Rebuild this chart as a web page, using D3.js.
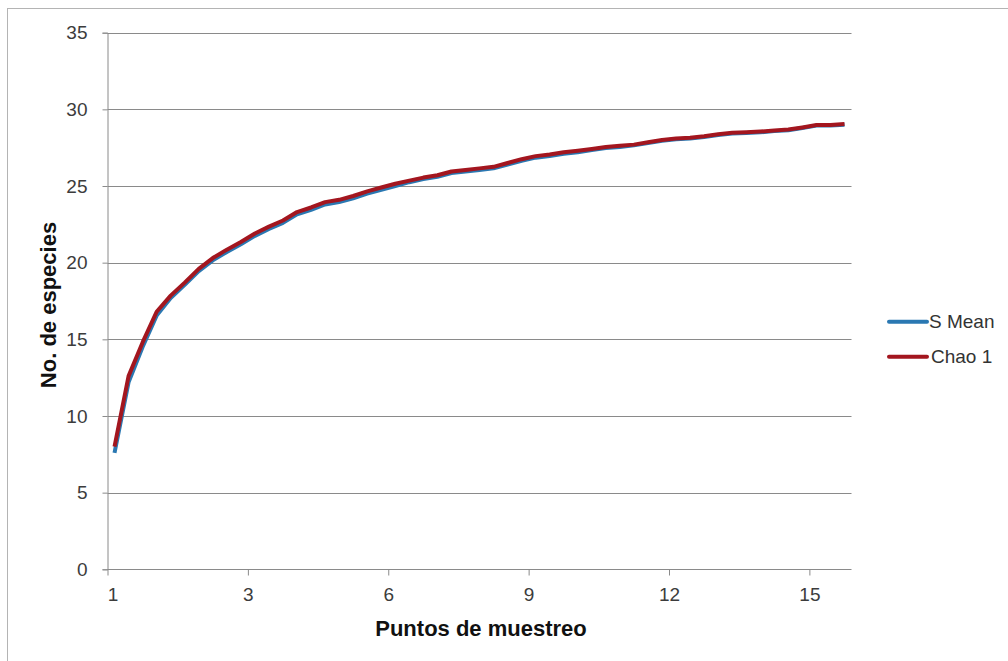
<!DOCTYPE html>
<html>
<head>
<meta charset="utf-8">
<script src="https://cdn.jsdelivr.net/npm/d3@7"></script>
<style>
  html, body { margin: 0; padding: 0; background: #fff; }
  svg { display: block; font-family: "Liberation Sans", Arial, sans-serif; }
</style>
</head>
<body>
<svg id="chart" width="1008" height="661"></svg>
<script>
// Rarefaction curves: species accumulated per sampling point
const samples = d3.range(1, 54); // 53 accumulation steps

const sMean = [7.6, 12.2, 14.5, 16.55, 17.7, 18.55, 19.45, 20.15, 20.7, 21.2,
  21.75, 22.2, 22.6, 23.15, 23.45, 23.8, 23.95, 24.2, 24.5, 24.75,
  25.0, 25.25, 25.45, 25.6, 25.85, 25.95, 26.05, 26.15, 26.4, 26.65,
  26.85, 26.95, 27.1, 27.2, 27.35, 27.48, 27.55, 27.65, 27.8, 27.95,
  28.05, 28.1, 28.2, 28.33, 28.42, 28.46, 28.5, 28.58, 28.64, 28.78,
  28.94, 28.95, 29.0];

const chao1 = [8.0, 12.6, 14.8, 16.8, 17.85, 18.7, 19.6, 20.3, 20.85, 21.35,
  21.9, 22.35, 22.75, 23.3, 23.6, 23.95, 24.1, 24.35, 24.65, 24.9,
  25.15, 25.35, 25.55, 25.7, 25.95, 26.05, 26.15, 26.25, 26.5, 26.75,
  26.95, 27.05, 27.2, 27.3, 27.42, 27.55, 27.62, 27.7, 27.85, 28.0,
  28.1, 28.15, 28.25, 28.38, 28.47, 28.5, 28.55, 28.62, 28.68, 28.82,
  28.98, 28.98, 29.05];

// Category axis labels, one every ten steps
const xTickAt = [0, 10, 20, 30, 40, 50];
const xTickLabels = ["1", "3", "6", "9", "12", "15"];
const yTicks = [0, 5, 10, 15, 20, 25, 30, 35];

const seriesNames = ["S Mean", "Chao 1"];
const seriesColors = ["#2a78b2", "#a3161f"];

const svg = d3.select("#chart");
const plotLeft = 107.5, plotRight = 851.5, plotTop = 32.7, plotBottom = 569.3;

// chart area frame
svg.append("rect")
  .attr("x", 7.5).attr("y", 8.5)
  .attr("width", 1012).attr("height", 664)
  .attr("fill", "none").attr("stroke", "#b4b4b4").attr("stroke-width", 1);

const x = d3.scaleLinear().domain([0, samples.length]).range([plotLeft, plotRight]);
const y = d3.scaleLinear().domain([0, 35]).range([plotBottom, plotTop]);

// horizontal gridlines
svg.append("g")
  .selectAll("line")
  .data(yTicks.filter(d => d > 0))
  .join("line")
  .attr("x1", plotLeft).attr("x2", plotRight)
  .attr("y1", d => Math.round(y(d)) + 0.5).attr("y2", d => Math.round(y(d)) + 0.5)
  .attr("stroke", "#8a8a8a").attr("stroke-width", 1);

// y axis
const yAxis = svg.append("g")
  .attr("transform", `translate(${plotLeft},0)`)
  .call(d3.axisLeft(y).tickValues(yTicks).tickSize(5).tickPadding(15)
    .tickFormat(d3.format("d")));
yAxis.select(".domain").attr("stroke", "#8a8a8a");
yAxis.selectAll(".tick line").attr("stroke", "#8a8a8a");
yAxis.selectAll(".tick text")
  .attr("font-size", 19).attr("fill", "#3c3c3c")
  .attr("font-family", "Liberation Sans, Arial, sans-serif");

// x axis
const xAxis = svg.append("g")
  .attr("transform", `translate(0,${Math.round(plotBottom) + 0.5})`)
  .call(d3.axisBottom(x).tickValues(xTickAt).tickSize(6).tickPadding(12)
    .tickFormat((d, i) => xTickLabels[i]));
xAxis.select(".domain").attr("stroke", "#8a8a8a").attr("d", `M${plotLeft},0H${plotRight}`);
xAxis.selectAll(".tick line").attr("stroke", "#8a8a8a");
xAxis.selectAll(".tick text")
  .attr("font-size", 19).attr("fill", "#3c3c3c")
  .attr("font-family", "Liberation Sans, Arial, sans-serif")
  .attr("dx", (d, i) => i === 0 ? 5 : 0);

// series lines
const line = d3.line()
  .x((d, i) => x(i + 0.5))
  .y(d => y(d));

[sMean, chao1].forEach((vals, k) => {
  svg.append("path")
    .datum(vals)
    .attr("d", line)
    .attr("fill", "none")
    .attr("stroke", seriesColors[k])
    .attr("stroke-width", 4)
    .attr("stroke-linejoin", "round")
    .attr("stroke-linecap", "butt");
});

// axis titles
svg.append("text")
  .attr("x", 481).attr("y", 636)
  .attr("text-anchor", "middle")
  .attr("font-size", 22).attr("font-weight", "bold").attr("fill", "#111")
  .text("Puntos de muestreo");

svg.append("text")
  .attr("transform", "translate(56,305) rotate(-90)")
  .attr("text-anchor", "middle")
  .attr("font-size", 22).attr("font-weight", "bold").attr("fill", "#111")
  .text("No. de especies");

// legend
const legend = svg.append("g");
seriesNames.forEach((name, k) => {
  const ly = 321.7 + k * 35;
  legend.append("line")
    .attr("x1", 889).attr("x2", 927)
    .attr("y1", ly).attr("y2", ly)
    .attr("stroke", seriesColors[k]).attr("stroke-width", 4)
    .attr("stroke-linecap", "round");
  legend.append("text")
    .attr("x", 929 + (k === 1 ? 2 : 0)).attr("y", ly + 6.5)
    .attr("font-size", 19).attr("fill", "#333")
    .text(name);
});
</script>
</body>
</html>
